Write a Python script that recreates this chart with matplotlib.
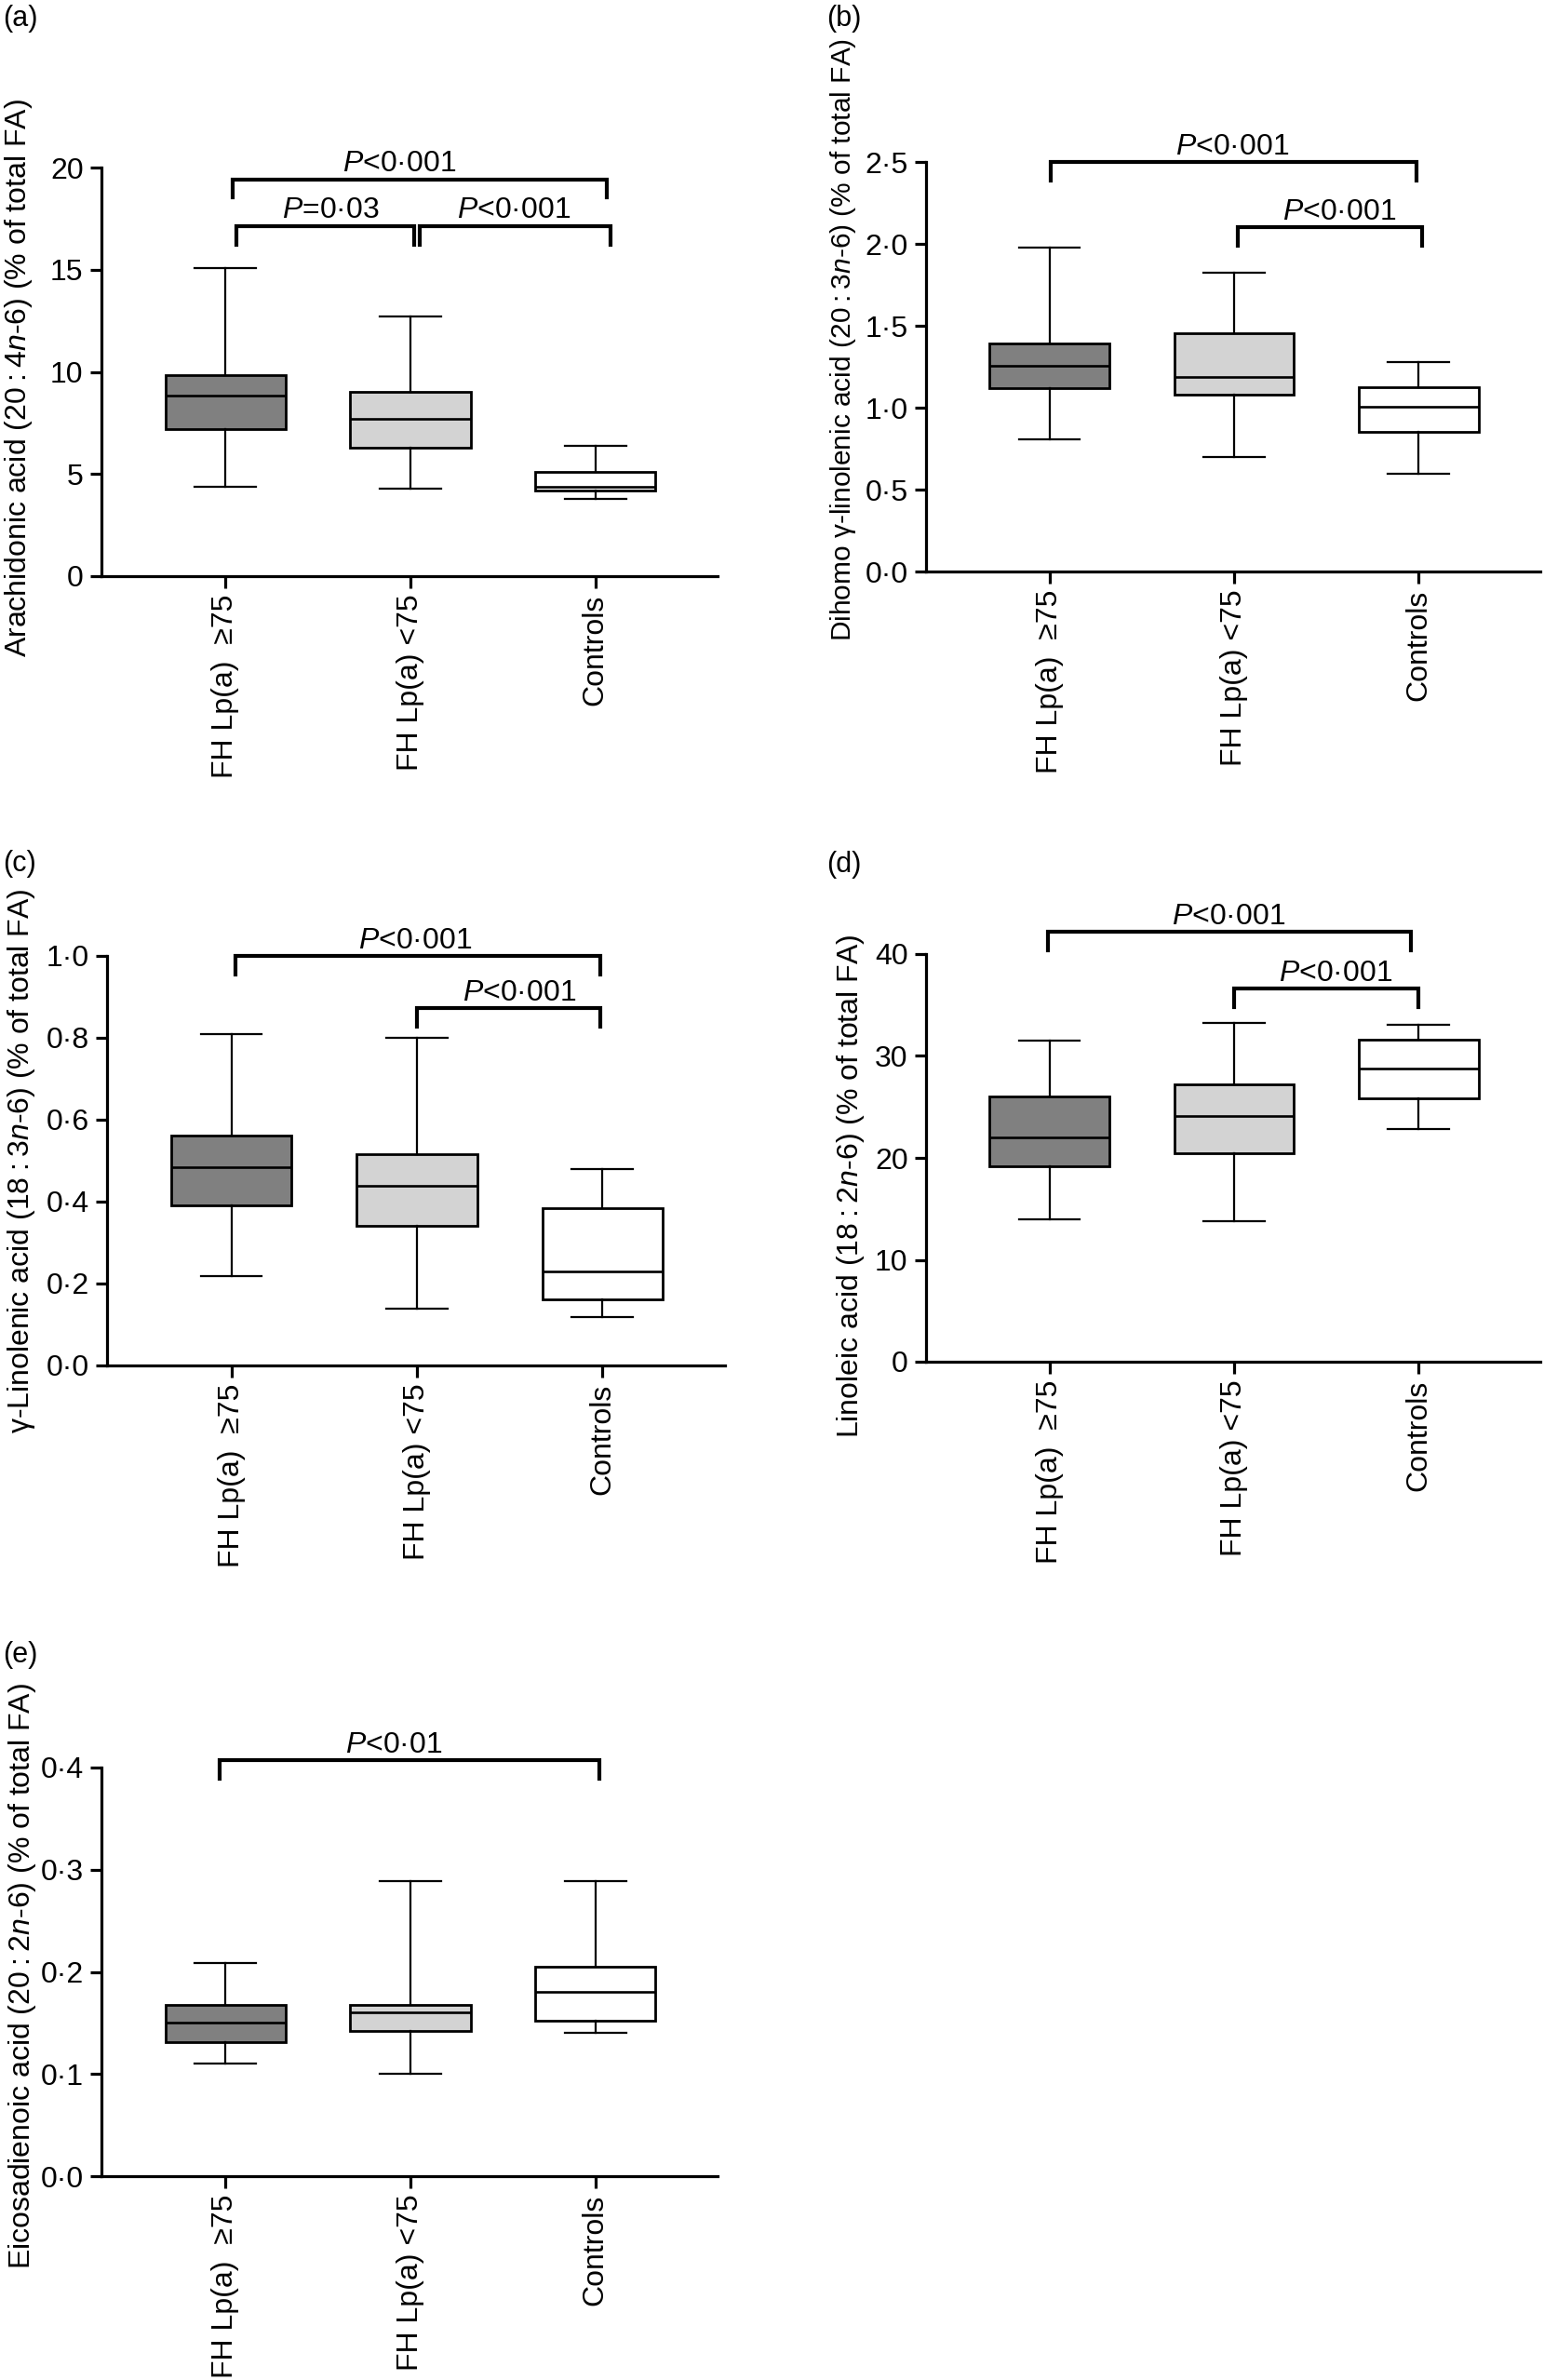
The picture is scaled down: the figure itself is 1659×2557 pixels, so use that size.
import matplotlib
matplotlib.use("Agg")
import matplotlib.pyplot as plt

plt.rcParams['font.family'] = ['Liberation Sans', 'DejaVu Sans']
plt.rcParams['mathtext.fontset'] = 'custom'
plt.rcParams['mathtext.rm'] = 'Liberation Sans'
plt.rcParams['mathtext.it'] = 'Liberation Sans:italic'
plt.rcParams['font.size'] = 23

groups = ['FH Lp(a)  \u226575', 'FH Lp(a) <75', 'Controls']
box_colors = ['#808080', '#d3d3d3', '#ffffff']

# (a) arachidonic acid
aa_low = [4.39, 4.29, 3.77]
aa_q1 = [7.18, 6.29, 4.19]
aa_med = [8.83, 7.72, 4.39]
aa_q3 = [9.86, 9.03, 5.10]
aa_high = [15.09, 12.70, 6.39]
aa_ticks = [0, 5, 10, 15, 20]
aa_brackets = [(0.04, 2.06, 19.43, 0.94, '$\\it{P}$<0\u00b7001'),
               (0.06, 1.02, 17.14, 0.57, '$\\it{P}$=0\u00b703'),
               (1.05, 2.08, 17.14, 1.56, '$\\it{P}$<0\u00b7001')]

# (b) dihomo gamma-linolenic acid
dgla_low = [0.805, 0.697, 0.595]
dgla_q1 = [1.12, 1.079, 0.854]
dgla_med = [1.255, 1.19, 1.008]
dgla_q3 = [1.39, 1.452, 1.125]
dgla_high = [1.976, 1.825, 1.276]
dgla_ticks = [0.0, 0.5, 1.0, 1.5, 2.0, 2.5]
dgla_brackets = [(0.005, 1.99, 2.5, 0.99, '$\\it{P}$<0\u00b7001'),
                 (1.02, 2.02, 2.10, 1.57, '$\\it{P}$<0\u00b7001')]

# (c) gamma-linolenic acid
gla_low = [0.219, 0.139, 0.118]
gla_q1 = [0.392, 0.340, 0.162]
gla_med = [0.485, 0.439, 0.229]
gla_q3 = [0.561, 0.515, 0.383]
gla_high = [0.809, 0.799, 0.480]
gla_ticks = [0.0, 0.2, 0.4, 0.6, 0.8, 1.0]
gla_brackets = [(0.02, 1.99, 1.0, 0.99, '$\\it{P}$<0\u00b7001'),
                (1.0, 1.99, 0.873, 1.55, '$\\it{P}$<0\u00b7001')]

# (d) linoleic acid
la_low = [13.96, 13.76, 22.8]
la_q1 = [19.2, 20.5, 25.8]
la_med = [22.0, 24.1, 28.8]
la_q3 = [26.0, 27.2, 31.6]
la_high = [31.5, 33.2, 33.1]
la_ticks = [0, 10, 20, 30, 40]
la_brackets = [(-0.01, 1.96, 42.2, 0.97, '$\\it{P}$<0\u00b7001'),
               (1.0, 2.0, 36.6, 1.55, '$\\it{P}$<0\u00b7001')]

# (e) eicosadienoic acid
eda_low = [0.110, 0.100, 0.140]
eda_q1 = [0.131, 0.142, 0.152]
eda_med = [0.150, 0.160, 0.180]
eda_q3 = [0.168, 0.168, 0.205]
eda_high = [0.209, 0.289, 0.289]
eda_ticks = [0.0, 0.1, 0.2, 0.3, 0.4]
eda_brackets = [(-0.03, 2.02, 0.407, 0.91, '$\\it{P}$<0\u00b701')]

W, H = 1659, 2557


def box(left, top, right, bottom):
    return [left / W, 1 - bottom / H, (right - left) / W, (bottom - top) / H]


def fmt(v, dec):
    if dec == 0:
        return str(int(v))
    return f"{v:.{dec}f}".replace('.', '\u00b7')


def panel(fig, rect, letter, letter_xy, ylabel, label_xy, label_size, low, q1,
          med, q3, high, ticks, dec, brackets):
    ax = fig.add_axes(rect)
    stats = []
    for i in range(len(groups)):
        stats.append(dict(whislo=low[i], q1=q1[i], med=med[i], q3=q3[i],
                          whishi=high[i], fliers=[]))
    b = ax.bxp(stats, positions=range(len(groups)), widths=0.65,
               capwidths=0.33, patch_artist=True, showfliers=False,
               boxprops=dict(linewidth=2.0, edgecolor='black'),
               whiskerprops=dict(linewidth=1.6, color='black'),
               capprops=dict(linewidth=1.6, color='black'),
               medianprops=dict(linewidth=1.9, color='black'))
    for patch, c in zip(b['boxes'], box_colors):
        patch.set_facecolor(c)

    ymax = ticks[-1]
    ax.set_ylim(0, ymax)
    ax.set_xlim(-0.67, 2.66)
    ax.set_yticks(ticks)
    ax.set_yticklabels([fmt(t, dec) for t in ticks])
    ax.set_xticks(range(len(groups)))
    ax.set_xticklabels(groups, rotation=90)
    ax.spines['top'].set_visible(False)
    ax.spines['right'].set_visible(False)
    for s in ('left', 'bottom'):
        ax.spines[s].set_linewidth(2.3)
    ax.tick_params(width=2.3, length=9, labelsize=23, pad=5)

    drop = 0.045 * ymax
    for x1, x2, y, tx, txt in brackets:
        ax.plot([x1, x1, x2, x2], [y - drop, y, y, y - drop], color='black',
                lw=3.0, clip_on=False, solid_joinstyle='miter')
        ax.annotate(txt, (tx, y), xytext=(0, 6), textcoords='offset points',
                    ha='center', va='baseline', fontsize=23,
                    annotation_clip=False)

    ax.text(label_xy[0], label_xy[1], ylabel, transform=ax.transAxes,
            rotation=90, ha='center', va='center', fontsize=label_size)
    fig.text(letter_xy[0] / W, 1 - letter_xy[1] / H, letter, ha='left',
             va='top', fontsize=22)
    return ax


fig = plt.figure(figsize=(W / 100, H / 100), dpi=100)

panel(fig, box(109, 180, 771, 619), '(a)', (3, 5),
      'Arachidonic acid (20\u2009:\u20094$\\it{n}$-6) (% of total FA)',
      (-0.134, 0.486), 23, aa_low, aa_q1, aa_med, aa_q3, aa_high, aa_ticks, 0,
      aa_brackets)
panel(fig, box(995, 174, 1655, 614), '(b)', (888, 5),
      'Dihomo \u03b3-linolenic acid (20\u2009:\u20093$\\it{n}$-6) (% of total FA)',
      (-0.135, 0.565), 21.5, dgla_low, dgla_q1, dgla_med, dgla_q3, dgla_high,
      dgla_ticks, 1, dgla_brackets)
panel(fig, box(115, 1027, 779, 1467), '(c)', (3, 913),
      '\u03b3-Linolenic acid (18\u2009:\u20093$\\it{n}$-6) (% of total FA)',
      (-0.138, 0.50), 23, gla_low, gla_q1, gla_med, gla_q3, gla_high,
      gla_ticks, 1, gla_brackets)
panel(fig, box(995, 1025, 1655, 1463), '(d)', (888, 914),
      'Linoleic acid (18\u2009:\u20092$\\it{n}$-6) (% of total FA)',
      (-0.123, 0.43), 23, la_low, la_q1, la_med, la_q3, la_high, la_ticks, 0,
      la_brackets)
panel(fig, box(109, 1899, 771, 2338), '(e)', (3, 1763),
      'Eicosadienoic acid (20\u2009:\u20092$\\it{n}$-6) (% of total FA)',
      (-0.128, 0.49), 23, eda_low, eda_q1, eda_med, eda_q3, eda_high,
      eda_ticks, 1, eda_brackets)

fig.savefig('out.png', dpi=100)
